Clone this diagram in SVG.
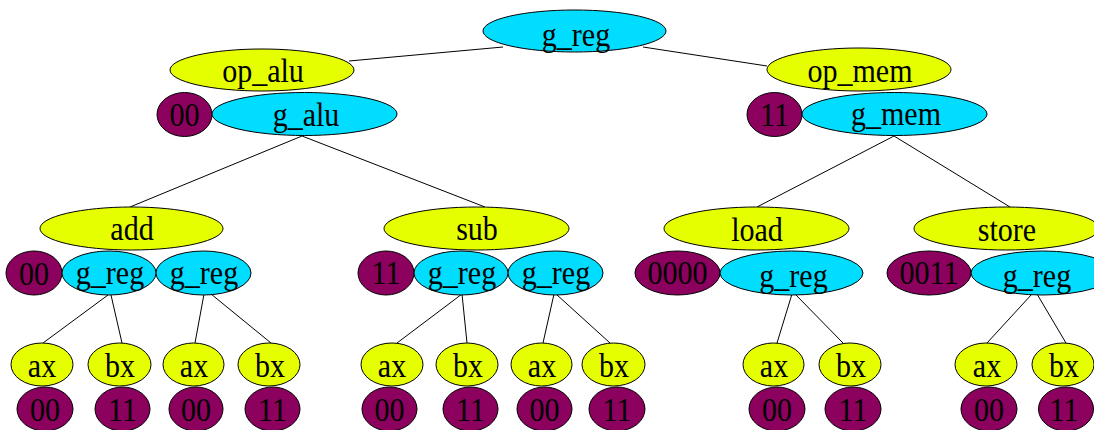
<svg xmlns="http://www.w3.org/2000/svg" width="1094" height="430" viewBox="0 0 1094 430">
  <style>
    .edge { stroke: #000; stroke-width: 1; fill: none; }
    ellipse { stroke: #000; stroke-width: 1; }
    .grp { fill: #00ddff; }
    .op { fill: #e5ff00; }
    .code { fill: #8c005e; }
    text { font-family: "Liberation Serif", "Times New Roman", serif; font-size: 33px; text-anchor: middle; fill: #000;
           transform-box: fill-box; transform-origin: center; transform: scaleX(0.91); }
  </style>
  <rect width="1094" height="430" fill="#fff"/>

  <!-- connectors -->
  <g id="connectors">
    <line class="edge" x1="503" y1="47" x2="349" y2="61"/>
    <line class="edge" x1="643" y1="47" x2="767" y2="66"/>
    <line class="edge" x1="302" y1="136" x2="130" y2="207"/>
    <line class="edge" x1="302" y1="136" x2="485" y2="207"/>
    <line class="edge" x1="894" y1="136" x2="757" y2="207"/>
    <line class="edge" x1="894" y1="136" x2="1010" y2="207"/>
    <line class="edge" x1="108" y1="295" x2="43" y2="343"/>
    <line class="edge" x1="111" y1="295" x2="122" y2="343"/>
    <line class="edge" x1="204" y1="294" x2="195" y2="343"/>
    <line class="edge" x1="211" y1="294" x2="271" y2="343"/>
    <line class="edge" x1="462" y1="294" x2="397" y2="343"/>
    <line class="edge" x1="462" y1="294" x2="467" y2="343"/>
    <line class="edge" x1="554" y1="294" x2="543" y2="343"/>
    <line class="edge" x1="556" y1="294" x2="610" y2="343"/>
    <line class="edge" x1="792" y1="294" x2="777" y2="343"/>
    <line class="edge" x1="795" y1="294" x2="843" y2="343"/>
    <line class="edge" x1="1032" y1="294" x2="987" y2="343"/>
    <line class="edge" x1="1037" y1="294" x2="1066" y2="343"/>
  </g>

  <!-- root -->
  <g id="g_reg_root"><ellipse class="grp" cx="574.5" cy="31" rx="91.5" ry="21"/><text x="576" y="46">g_reg</text></g>

  <!-- ALU branch -->
  <g id="op_alu"><ellipse class="op" cx="262" cy="70" rx="92" ry="21"/><text x="263" y="82">op_alu</text></g>
  <g id="code_alu"><ellipse class="code" cx="184.5" cy="114.5" rx="27.5" ry="22"/><text x="184.5" y="126">00</text></g>
  <g id="g_alu"><ellipse class="grp" cx="304.5" cy="114" rx="92.5" ry="21.5"/><text x="306" y="126">g_alu</text></g>

  <g id="add"><ellipse class="op" cx="131.5" cy="228.5" rx="91.5" ry="21.5"/><text x="132" y="240">add</text></g>
  <g id="code_add"><ellipse class="code" cx="34" cy="273" rx="28" ry="22"/><text x="34" y="285">00</text></g>
  <g id="add_reg1"><ellipse class="grp" cx="109" cy="273" rx="47" ry="22"/><text x="110" y="284">g_reg</text></g>
  <g id="add_reg2"><ellipse class="grp" cx="203.5" cy="273" rx="47.5" ry="22"/><text x="204" y="284">g_reg</text></g>
  <g id="add_r1_ax"><ellipse class="op" cx="42" cy="364.5" rx="31" ry="21.5"/><text x="42" y="377">ax</text></g>
  <g id="add_r1_bx"><ellipse class="op" cx="119.5" cy="364.5" rx="31.5" ry="21.5"/><text x="120" y="377">bx</text></g>
  <g id="add_r2_ax"><ellipse class="op" cx="193.5" cy="364.5" rx="30.5" ry="21.5"/><text x="194" y="377">ax</text></g>
  <g id="add_r2_bx"><ellipse class="op" cx="269" cy="364.5" rx="31" ry="21.5"/><text x="270" y="377">bx</text></g>
  <g id="add_r1_ax_code"><ellipse class="code" cx="45" cy="409" rx="28" ry="22"/><text x="45" y="421.5">00</text></g>
  <g id="add_r1_bx_code"><ellipse class="code" cx="122.5" cy="409" rx="27.5" ry="22"/><text x="122.5" y="421.5">11</text></g>
  <g id="add_r2_ax_code"><ellipse class="code" cx="196" cy="409" rx="27" ry="22"/><text x="196" y="421.5">00</text></g>
  <g id="add_r2_bx_code"><ellipse class="code" cx="272.5" cy="409" rx="27.5" ry="22"/><text x="272.5" y="421.5">11</text></g>

  <g id="sub"><ellipse class="op" cx="476.5" cy="228.5" rx="92.5" ry="21.5"/><text x="477" y="240">sub</text></g>
  <g id="code_sub"><ellipse class="code" cx="386" cy="273" rx="28" ry="22"/><text x="386" y="284">11</text></g>
  <g id="sub_reg1"><ellipse class="grp" cx="461" cy="273" rx="47" ry="22"/><text x="462" y="284">g_reg</text></g>
  <g id="sub_reg2"><ellipse class="grp" cx="555.5" cy="273" rx="47.5" ry="22"/><text x="556" y="284">g_reg</text></g>
  <g id="sub_r1_ax"><ellipse class="op" cx="392" cy="364.5" rx="31" ry="21.5"/><text x="392" y="377">ax</text></g>
  <g id="sub_r1_bx"><ellipse class="op" cx="467" cy="364.5" rx="31" ry="21.5"/><text x="468" y="377">bx</text></g>
  <g id="sub_r2_ax"><ellipse class="op" cx="541.5" cy="364.5" rx="30.5" ry="21.5"/><text x="542" y="377">ax</text></g>
  <g id="sub_r2_bx"><ellipse class="op" cx="613.5" cy="364.5" rx="31.5" ry="21.5"/><text x="614" y="377">bx</text></g>
  <g id="sub_r1_ax_code"><ellipse class="code" cx="389.5" cy="409" rx="27.5" ry="22"/><text x="389.5" y="421.5">00</text></g>
  <g id="sub_r1_bx_code"><ellipse class="code" cx="470.5" cy="409" rx="27.5" ry="22"/><text x="470.5" y="421.5">11</text></g>
  <g id="sub_r2_ax_code"><ellipse class="code" cx="544.5" cy="409" rx="27.5" ry="22"/><text x="544.5" y="421.5">00</text></g>
  <g id="sub_r2_bx_code"><ellipse class="code" cx="617" cy="409" rx="28" ry="22"/><text x="617" y="421.5">11</text></g>

  <!-- memory branch -->
  <g id="op_mem"><ellipse class="op" cx="859" cy="69.5" rx="92" ry="21.5"/><text x="860" y="82">op_mem</text></g>
  <g id="code_mem"><ellipse class="code" cx="774.5" cy="114.5" rx="27.5" ry="22"/><text x="774.5" y="126">11</text></g>
  <g id="g_mem"><ellipse class="grp" cx="894.5" cy="114" rx="92.5" ry="21.5"/><text x="896" y="125">g_mem</text></g>

  <g id="load"><ellipse class="op" cx="756.5" cy="228.5" rx="92.5" ry="21.5"/><text x="757" y="241">load</text></g>
  <g id="code_load"><ellipse class="code" cx="677.5" cy="273" rx="42.5" ry="22"/><text x="677.5" y="284">0000</text></g>
  <g id="load_reg"><ellipse class="grp" cx="791.5" cy="273" rx="71.5" ry="22"/><text x="793.5" y="287">g_reg</text></g>
  <g id="load_ax"><ellipse class="op" cx="773.5" cy="364.5" rx="30.5" ry="21.5"/><text x="774" y="377">ax</text></g>
  <g id="load_bx"><ellipse class="op" cx="850" cy="364.5" rx="31" ry="21.5"/><text x="851" y="377">bx</text></g>
  <g id="load_ax_code"><ellipse class="code" cx="777" cy="409" rx="28" ry="22"/><text x="777" y="421.5">00</text></g>
  <g id="load_bx_code"><ellipse class="code" cx="853" cy="409" rx="28" ry="22"/><text x="853" y="421.5">11</text></g>

  <g id="store"><ellipse class="op" cx="1006.5" cy="228.5" rx="92.5" ry="21.5"/><text x="1007" y="241">store</text></g>
  <g id="code_store"><ellipse class="code" cx="929" cy="273" rx="42" ry="22"/><text x="929" y="284">0011</text></g>
  <g id="store_reg"><ellipse class="grp" cx="1042.5" cy="273" rx="71.5" ry="22"/><text x="1037" y="287">g_reg</text></g>
  <g id="store_ax"><ellipse class="op" cx="986" cy="364.5" rx="31" ry="21.5"/><text x="987" y="377">ax</text></g>
  <g id="store_bx"><ellipse class="op" cx="1063" cy="364.5" rx="31" ry="21.5"/><text x="1064" y="377">bx</text></g>
  <g id="store_ax_code"><ellipse class="code" cx="989" cy="409" rx="28" ry="22"/><text x="989" y="421.5">00</text></g>
  <g id="store_bx_code"><ellipse class="code" cx="1066" cy="409" rx="27.5" ry="22"/><text x="1064" y="421.5">11</text></g>
</svg>
